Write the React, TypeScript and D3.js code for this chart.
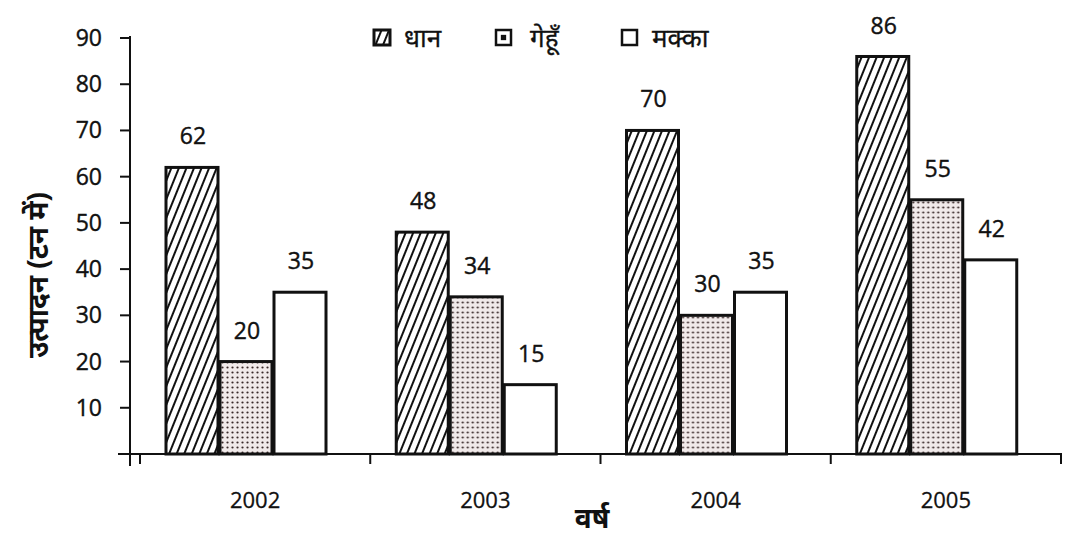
import React from "react";
import * as d3 from "d3";

const years = ["2002", "2003", "2004", "2005"];
const series = ["धान", "गेहूँ", "मक्का"];
const dhaan = [62, 48, 70, 86];
const gehun = [20, 34, 30, 55];
const makka = [35, 15, 35, 42];
const yTicks = [10, 20, 30, 40, 50, 60, 70, 80, 90];

const values = [dhaan, gehun, makka];
const fills = ["url(#hatch)", "url(#dots)", "#fff"];
const font = "'Open Sans', 'Noto Sans', 'Noto Sans Devanagari', sans-serif";

export default function App() {
  const width = 1072;
  const height = 541;
  const axisX = 130;
  const baseY = 454;

  const y = d3.scaleLinear().domain([0, 90]).range([baseY, 38]);
  const x = d3.scaleBand().domain(years).range([140, 1061]);
  const inner = d3.scaleBand().domain(series).range([26, 188]);

  return (
    <svg width={width} height={height} style={{ position: "absolute", left: 0, top: 0, background: "#fff" }}>
      <defs>
        <pattern id="hatch" width="7" height="10" patternUnits="userSpaceOnUse" patternTransform="rotate(22)">
          <rect width="7" height="10" fill="#fff" />
          <line x1="1" y1="0" x2="1" y2="10" stroke="#111" strokeWidth="2" />
        </pattern>
        <pattern id="dots" width="5" height="5" patternUnits="userSpaceOnUse">
          <rect width="5" height="5" fill="#f1eaea" />
          <circle cx="2.5" cy="2.5" r="1.1" fill="#3a2a2a" />
        </pattern>
      </defs>

      {/* y axis */}
      <line x1={axisX} x2={axisX} y1={y(90) - 2} y2={baseY + 12} stroke="#111" strokeWidth={2} />
      {yTicks.map((t) => (
        <g key={t}>
          <line x1={axisX - 10} x2={axisX} y1={y(t)} y2={y(t)} stroke="#111" strokeWidth={2} />
          <text x={axisX - 28} y={y(t)} dy="0.35em" textAnchor="end" fontSize={23} fontFamily={font} fill="#111" stroke="#111" strokeWidth={0.4}>
            {t}
          </text>
        </g>
      ))}

      {/* x axis */}
      <line x1={118} x2={1062} y1={baseY} y2={baseY} stroke="#111" strokeWidth={2} />
      {[...years.map((yr) => x(yr)!), 1061].map((p, i) => (
        <line key={i} x1={p} x2={p} y1={baseY} y2={baseY + 10} stroke="#111" strokeWidth={2} />
      ))}
      {years.map((yr) => (
        <text key={yr} x={x(yr)! + x.bandwidth() / 2} y={500} dy="0.35em" textAnchor="middle" fontSize={22} fontFamily={font} fill="#111" stroke="#111" strokeWidth={0.3}>
          {yr}
        </text>
      ))}

      {/* bars */}
      {years.map((yr, i) => (
        <g key={yr} transform={`translate(${x(yr)},0)`}>
          {series.map((s, j) => {
            const v = values[j][i];
            const bx = inner(s)!;
            return (
              <g key={s}>
                <rect x={bx} y={y(v)} width={inner.bandwidth() - 2} height={baseY - y(v)} fill={fills[j]} stroke="#111" strokeWidth={3} />
                <text x={bx + inner.bandwidth() / 2} y={y(v) - 31} dy="0.35em" textAnchor="middle" fontSize={23} fontFamily={font} fill="#111" stroke="#111" strokeWidth={0.4}>
                  {v}
                </text>
              </g>
            );
          })}
        </g>
      ))}

      {/* legend */}
      <g fontFamily={font} fontSize={26} fill="#111" stroke="#111" strokeWidth={0.3}>
        <rect x={374} y={30} width={16} height={15} fill="url(#hatch)" stroke="#111" strokeWidth={3} />
        <text x={404} y={38} dy="0.35em">{series[0]}</text>
        <rect x={496} y={30} width={15} height={15} fill="#fff" stroke="#111" strokeWidth={2.5} />
        <rect x={501} y={35} width={5} height={5} fill="#111" />
        <text x={530} y={38} dy="0.35em">{series[1]}</text>
        <rect x={622} y={30} width={15} height={15} fill="#fff" stroke="#111" strokeWidth={2.5} />
        <text x={652} y={38} dy="0.35em">{series[2]}</text>
      </g>

      {/* axis titles */}
      <text transform="translate(38,275) rotate(-90)" textAnchor="middle" dy="0.35em" fontSize={28} fontWeight="bold" fontFamily={font} fill="#111">
        उत्पादन (टन में)
      </text>
      <text x={592} y={518} dy="0.35em" textAnchor="middle" fontSize={28} fontWeight="bold" fontFamily={font} fill="#111">
        वर्ष
      </text>
    </svg>
  );
}
